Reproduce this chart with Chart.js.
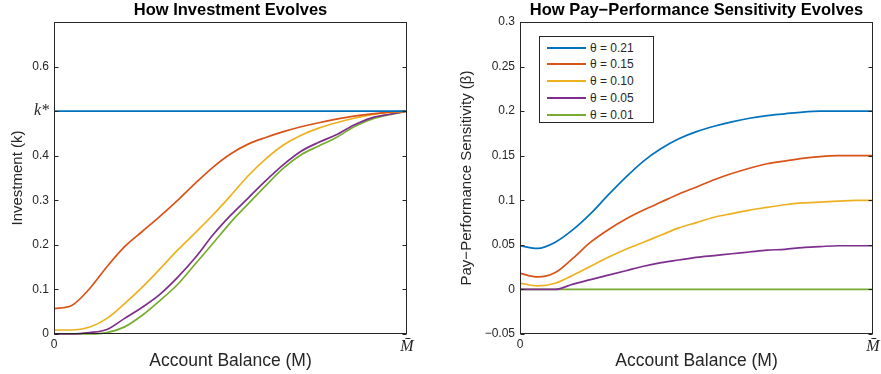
<!DOCTYPE html>
<html>
<head>
<meta charset="utf-8">
<script src="https://cdn.jsdelivr.net/npm/chart.js@4/dist/chart.umd.min.js"></script>
<style>
  html, body { margin: 0; padding: 0; background: #fff; }
  #wrap { position: relative; width: 881px; height: 374px; overflow: hidden; background: #fff; }
  .panel { position: absolute; top: 0; height: 374px; }
  #legend { position: absolute; left: 539px; top: 36px; width: 115px; height: 87px; border: 1px solid #262626; background: #fff; box-sizing: border-box; font-family: "Liberation Sans", Arial, sans-serif; font-size: 12px; color: #262626; }
  .lg-row { position: absolute; left: 0; height: 16px; width: 100%; }
  .lg-line { position: absolute; left: 7px; width: 39px; height: 2px; top: 7px; }
  .lg-text { position: absolute; left: 50px; top: 0; line-height: 16px; white-space: nowrap; }
</style>
</head>
<body>
<div id="wrap">
  <div class="panel" style="left:0;width:440px;"><canvas id="c1" width="440" height="374"></canvas></div>
  <div class="panel" style="left:440px;width:441px;"><canvas id="c2" width="441" height="374"></canvas></div>
  <div id="legend"></div>
</div>
<script>
// ---------------- data ----------------
const balance = [0, 0.05, 0.1, 0.15, 0.2, 0.25, 0.3, 0.35, 0.4, 0.45, 0.5, 0.55, 0.6, 0.65, 0.7, 0.75, 0.8, 0.85, 0.9, 0.95, 1];

const seriesLabels = ['θ = 0.21', 'θ = 0.15', 'θ = 0.10', 'θ = 0.05', 'θ = 0.01'];
const seriesColors = ['#0072BD', '#D95319', '#EDB120', '#7E2F8E', '#77AC30'];

// Investment (k)
const inv021 = [0.5, 0.5, 0.5, 0.5, 0.5, 0.5, 0.5, 0.5, 0.5, 0.5, 0.5, 0.5, 0.5, 0.5, 0.5, 0.5, 0.5, 0.5, 0.5, 0.5, 0.5];
const inv015 = [0.057, 0.064, 0.101, 0.151, 0.196, 0.230, 0.264, 0.300, 0.338, 0.374, 0.404, 0.426, 0.441, 0.454, 0.465, 0.474, 0.482, 0.489, 0.494, 0.498, 0.5];
const inv010 = [0.009, 0.009, 0.015, 0.035, 0.068, 0.105, 0.146, 0.188, 0.227, 0.267, 0.310, 0.355, 0.393, 0.424, 0.446, 0.462, 0.474, 0.484, 0.492, 0.497, 0.5];
const inv005 = [0, 0, 0.003, 0.010, 0.035, 0.060, 0.089, 0.127, 0.171, 0.222, 0.266, 0.305, 0.344, 0.380, 0.410, 0.430, 0.447, 0.469, 0.485, 0.493, 0.5];
const inv001 = [0, 0, 0, 0.003, 0.016, 0.042, 0.075, 0.111, 0.157, 0.203, 0.250, 0.292, 0.333, 0.372, 0.402, 0.422, 0.441, 0.465, 0.482, 0.492, 0.5];

// Pay-performance sensitivity (beta)
const pps021 = [0.049, 0.046, 0.053, 0.067, 0.085, 0.106, 0.126, 0.144, 0.158, 0.169, 0.177, 0.183, 0.188, 0.192, 0.195, 0.197, 0.199, 0.200, 0.200, 0.200, 0.200];
const pps015 = [0.018, 0.014, 0.019, 0.035, 0.053, 0.067, 0.079, 0.089, 0.098, 0.107, 0.115, 0.123, 0.130, 0.136, 0.141, 0.144, 0.147, 0.149, 0.150, 0.150, 0.150];
const pps010 = [0.007, 0.004, 0.007, 0.016, 0.026, 0.036, 0.045, 0.053, 0.061, 0.069, 0.075, 0.081, 0.085, 0.089, 0.092, 0.095, 0.097, 0.098, 0.099, 0.100, 0.100];
const pps005 = [0, 0, 0, 0.006, 0.011, 0.016, 0.021, 0.026, 0.030, 0.033, 0.036, 0.038, 0.040, 0.042, 0.044, 0.045, 0.047, 0.048, 0.049, 0.049, 0.049];
const pps001 = [0, 0, 0, 0, 0, 0, 0, 0, 0, 0, 0, 0, 0, 0, 0, 0, 0, 0, 0, 0, 0];

// ticks
const xTickValues = [0, 1];
const xTickLabels = ['0', 'M\u0304'];
const invTickValues = [0, 0.1, 0.2, 0.3, 0.4, 0.5, 0.6];
const invTickLabels = ['0', '0.1', '0.2', '0.3', '0.4', 'k*', '0.6'];
const ppsTickValues = [-0.05, 0, 0.05, 0.1, 0.15, 0.2, 0.25, 0.3];
const ppsTickLabels = ['\u22120.05', '0', '0.05', '0.1', '0.15', '0.2', '0.25', '0.3'];

const titles = ['How Investment Evolves', 'How Pay\u2212Performance Sensitivity Evolves'];
const xTitle = 'Account Balance (M)';
const yTitles = ['Investment (k)', 'Pay\u2212Performance Sensitivity (\u03B2)'];

// ---------------- rendering ----------------
const SANS = '"Liberation Sans", Arial, Helvetica, sans-serif';
const SERIF = '"Liberation Serif", "Times New Roman", serif';
const TXT = '#262626';

const boxPlugin = {
  id: 'matlabBox',
  afterDatasetsDraw(chart) {
    const { ctx, chartArea: a } = chart;
    const ys = chart.scales.y;
    ctx.save();
    ctx.strokeStyle = TXT;
    ctx.lineWidth = 1;
    const L = Math.round(a.left) + 0.5, R = Math.round(a.right) - 0.5;
    const T = Math.round(a.top) + 0.5, B = Math.round(a.bottom) - 0.5;
    ctx.strokeRect(L, T, R - L, B - T);
    ctx.beginPath();
    ys.ticks.forEach(t => {
      const p = Math.round(ys.getPixelForValue(t.value)) + 0.5;
      ctx.moveTo(L, p); ctx.lineTo(L + 4, p);
      ctx.moveTo(R, p); ctx.lineTo(R - 4, p);
    });
    ctx.stroke();
    ctx.restore();
  }
};

const titlePlugin = {
  id: 'panelTitle',
  afterDraw(chart, args, opts) {
    const { ctx, chartArea: a } = chart;
    ctx.save();
    ctx.font = 'bold 16.5px ' + SANS;
    ctx.fillStyle = '#000';
    ctx.textAlign = 'center';
    ctx.textBaseline = 'middle';
    ctx.fillText(opts.text, (a.left + a.right) / 2, 10.5);
    ctx.restore();
  }
};

function makeChart(id, seriesList, yMin, yMax, yTickValues, yTickLabels, yTitle, title, yAxisWidth, rightPad, yTitlePad) {
  const datasets = seriesList.map((s, i) => ({
    label: seriesLabels[i],
    data: balance.map((b, j) => ({ x: b, y: s[j] })),
    borderColor: seriesColors[i],
    backgroundColor: seriesColors[i],
    borderWidth: 1.7,
    pointRadius: 0,
    cubicInterpolationMode: 'monotone',
    fill: false,
    clip: false
  }));
  return new Chart(document.getElementById(id), {
    type: 'line',
    data: { datasets },
    plugins: [boxPlugin, titlePlugin],
    options: {
      responsive: false,
      animation: false,
      devicePixelRatio: 1,
      layout: { padding: { top: 22, right: rightPad, left: 0, bottom: 0 } },
      plugins: {
        legend: { display: false },
        tooltip: { enabled: false },
        panelTitle: { text: title }
      },
      scales: {
        x: {
          type: 'linear',
          min: 0, max: 1,
          grid: { display: false, drawTicks: false },
          border: { display: false },
          afterBuildTicks: (sc) => { sc.ticks = xTickValues.map(v => ({ value: v })); },
          afterFit: (sc) => { sc.height = 40; sc.paddingLeft = 0; sc.paddingRight = 0; },
          ticks: {
            autoSkip: false,
            maxRotation: 0,
            padding: 3,
            color: TXT,
            callback: (v) => xTickLabels[xTickValues.indexOf(v)],
            font: (ctx) => (ctx.tick && ctx.tick.value === 1)
              ? { family: SERIF, style: 'italic', size: 16 }
              : { family: SANS, size: 12 }
          },
          title: {
            display: true, text: xTitle, color: TXT,
            font: { family: SANS, size: 17.5 },
            padding: { top: 0, bottom: 2.5 }
          }
        },
        y: {
          type: 'linear',
          min: yMin, max: yMax,
          grid: { display: false, drawTicks: false },
          border: { display: false },
          afterBuildTicks: (sc) => { sc.ticks = yTickValues.map(v => ({ value: v })); },
          afterFit: (sc) => { sc.width = yAxisWidth; sc.paddingTop = 0; sc.paddingBottom = 0; },
          ticks: {
            autoSkip: false,
            padding: 5,
            color: TXT,
            callback: (v) => {
              const k = yTickValues.findIndex(t => Math.abs(t - v) < 1e-9);
              return k >= 0 ? yTickLabels[k] : '';
            },
            font: (ctx) => (ctx.tick && yTickLabels[yTickValues.findIndex(t => Math.abs(t - ctx.tick.value) < 1e-9)] === 'k*')
              ? { family: SERIF, style: 'italic', size: 16 }
              : { family: SANS, size: 12 }
          },
          title: {
            display: true, text: yTitle, color: TXT,
            font: { family: SANS, size: 15 },
            padding: { top: yTitlePad, bottom: 0 }
          }
        }
      }
    }
  });
}

makeChart('c1', [inv021, inv015, inv010, inv005, inv001], 0, 0.7,
  invTickValues, invTickLabels, yTitles[0], titles[0], 54, 33, 8.5);
makeChart('c2', [pps021, pps015, pps010, pps005, pps001], -0.05, 0.3,
  ppsTickValues, ppsTickLabels, yTitles[1], titles[1], 80, 8, 17.5);

// HTML legend built from series labels/colours
const lg = document.getElementById('legend');
seriesLabels.forEach((lab, i) => {
  const row = document.createElement('div');
  row.className = 'lg-row';
  row.style.top = (2.7 + i * 16.7) + 'px';
  const ln = document.createElement('div');
  ln.className = 'lg-line';
  ln.style.background = seriesColors[i];
  const tx = document.createElement('div');
  tx.className = 'lg-text';
  tx.textContent = lab;
  row.appendChild(ln); row.appendChild(tx);
  lg.appendChild(row);
});
</script>
</body>
</html>
